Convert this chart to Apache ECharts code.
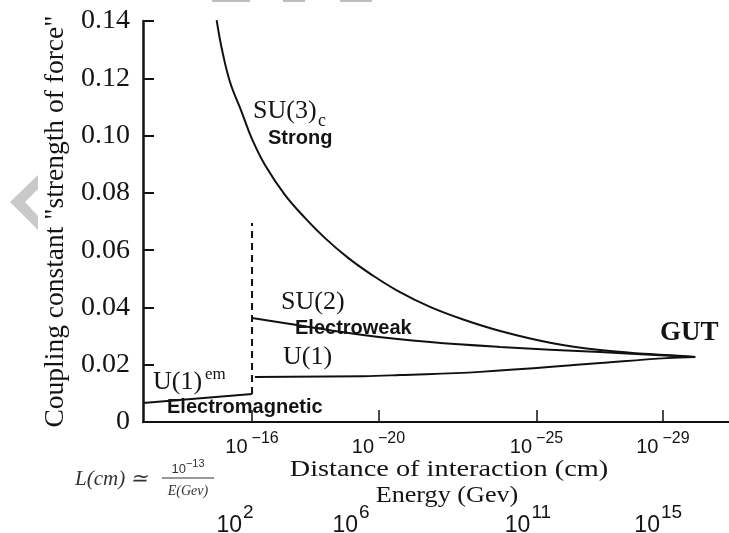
<!DOCTYPE html>
<html><head><meta charset="utf-8">
<script src="https://cdn.jsdelivr.net/npm/echarts@6/dist/echarts.min.js"></script>
<style>html,body{margin:0;padding:0;background:#fff}#c{width:729px;height:533px}</style>
</head><body><div id="c"></div>
<script>
// x = -log10(distance in cm)
const distanceExps = [16, 20, 25, 29];
const energyPositions = [15.46, 19.13, 24.73, 28.85];
const energyExps = [2, 6, 11, 15];

const strongX = [14.88, 15.04, 15.30, 15.67, 15.99, 16.41, 17.04, 17.68, 18.31, 19.04, 19.80, 20.62, 21.63, 22.68, 23.85, 25.43, 27.01, 28.59, 30.02];
const strongY = [0.1403, 0.1305, 0.1188, 0.1083, 0.0990, 0.0897, 0.0793, 0.0712, 0.0642, 0.0573, 0.0513, 0.0457, 0.0402, 0.0358, 0.0318, 0.0277, 0.0251, 0.0237, 0.0227];

const weakX = [16.0, 17.42, 19.51, 21.63, 23.85, 27.01, 30.02];
const weakY = [0.0363, 0.0339, 0.0304, 0.0279, 0.0262, 0.0244, 0.0227];

const u1X = [16.09, 19.51, 20.68, 23.21, 27.01, 29.13, 30.02];
const u1Y = [0.0157, 0.0160, 0.0164, 0.0175, 0.0206, 0.0223, 0.0227];

const emX = [12.55, 16.0];
const emY = [0.0066, 0.0098];

const breakX = [16.0, 16.0];
const breakY = [0.0098, 0.0695];

const zip = (a, b) => a.map((v, i) => [v, b[i]]);
const SERIF = '"Liberation Serif", "Times New Roman", serif';
const SANS = '"Liberation Sans", Arial, sans-serif';
const INK = '#141414';

const chart = echarts.init(document.getElementById('c'));
const lineSeries = (data, extra) => Object.assign({
  type: 'line', data: data, symbol: 'none', smooth: 0.4,
  lineStyle: { color: '#111', width: 2 }, silent: true, z: 3
}, extra || {});

const txt = (x, y, text, font, size, weight, extra) => Object.assign({
  type: 'text', x: x, y: y, z: 10,
  style: { text: text, fontFamily: font, fontSize: size, fontWeight: weight || 'normal',
           fill: INK, textVerticalAlign: 'middle', textAlign: 'left' }
}, extra || {});

const centered = (x, y, text, size, sx) => ({
  type: 'text', x: x, y: y, z: 10, scaleX: sx, originX: 0, originY: 0,
  style: { text: text, fontFamily: SERIF, fontSize: size, fill: INK, textVerticalAlign: 'middle', textAlign: 'center' }
});

chart.setOption({
  animation: false,
  grid: { left: 143, right: 0, top: 21, bottom: 111, containLabel: false, outerBoundsMode: 'none' },
  xAxis: [{
    type: 'value', min: 12.55, max: 31.09,
    axisLine: { show: true, lineStyle: { color: '#111', width: 2 } },
    axisTick: { show: true, inside: true, length: 12, customValues: distanceExps, lineStyle: { color: '#111', width: 1.5 } },
    splitLine: { show: false },
    axisLabel: {
      customValues: distanceExps, margin: 9, color: INK,
      formatter: v => '{b|10}{s|−' + v + '}',
      rich: {
        b: { fontFamily: SANS, fontSize: 20, lineHeight: 26, verticalAlign: 'bottom' },
        s: { fontFamily: SANS, fontSize: 16, lineHeight: 26, verticalAlign: 'top', padding: [0, 0, 0, 4] }
      }
    }
  }, {
    type: 'value', min: 12.55, max: 31.09, position: 'bottom',
    axisLine: { show: false }, axisTick: { show: false }, splitLine: { show: false },
    axisLabel: {
      customValues: energyPositions, margin: 81, color: INK,
      formatter: v => {
        const i = energyPositions.indexOf(v);
        return '{b|10}{s|' + (i >= 0 ? energyExps[i] : '') + '}';
      },
      rich: {
        b: { fontFamily: SANS, fontSize: 23, lineHeight: 34, verticalAlign: 'bottom' },
        s: { fontFamily: SANS, fontSize: 19, lineHeight: 34, verticalAlign: 'top', padding: [0, 0, 0, 1] }
      }
    }
  }],
  yAxis: {
    type: 'value', min: 0, max: 0.14, interval: 0.02,
    name: 'Coupling constant "strength of force"',
    nameLocation: 'middle', nameGap: 69,
    nameTextStyle: { fontFamily: SERIF, fontSize: 27.5, color: INK },
    axisLine: { show: true, lineStyle: { color: '#111', width: 2.5 } },
    axisTick: { show: true, inside: true, length: 11, lineStyle: { color: '#111', width: 2 } },
    splitLine: { show: false },
    axisLabel: {
      margin: 13, fontFamily: SERIF, fontSize: 28, color: INK,
      formatter: v => v === 0 ? '0' : v.toFixed(2)
    }
  },
  series: [
    lineSeries(zip(strongX, strongY)),
    lineSeries(zip(weakX, weakY)),
    lineSeries(zip(u1X, u1Y)),
    lineSeries(zip(emX, emY), { smooth: false }),
    lineSeries(zip(breakX, breakY), { smooth: false, lineStyle: { color: '#111', width: 2, type: [7, 5] } })
  ],
  graphic: [
    { type: 'polygon', z: 1, shape: { points: [[38,175],[10,202],[38,230],[38,216],[25,202],[38,189]] }, style: { fill: '#c9c9c9' } },
    { type: 'rect', shape: { x: 212, y: 0, width: 38, height: 2 }, style: { fill: '#bdbdbd' } },
    { type: 'rect', shape: { x: 283, y: 0, width: 22, height: 2 }, style: { fill: '#bdbdbd' } },
    { type: 'rect', shape: { x: 340, y: 0, width: 32, height: 2 }, style: { fill: '#bdbdbd' } },

    txt(253, 111, 'SU(3)', SERIF, 26),
    txt(318, 121, 'c', SERIF, 18),
    txt(268, 138, 'Strong', SANS, 20, 'bold'),
    txt(281, 302, 'SU(2)', SERIF, 26),
    txt(295, 328, 'Electroweak', SANS, 20, 'bold'),
    txt(283, 357, 'U(1)', SERIF, 26),
    txt(153, 382, 'U(1)', SERIF, 26),
    txt(205, 375, 'em', SERIF, 17),
    txt(167, 407, 'Electromagnetic', SANS, 20, 'bold'),
    txt(660, 333, 'GUT', SERIF, 27, 'bold'),

    centered(449, 470, 'Distance of interaction (cm)', 24, 1.18),
    centered(447, 496, 'Energy (Gev)', 24, 1.09),

    txt(75, 479, 'L(cm) ≃', SERIF, 21, 'normal',
        { style: { text: 'L(cm) ≃', fontFamily: SERIF, fontSize: 21, fontStyle: 'italic', fill: '#333', textVerticalAlign: 'middle', textAlign: 'left' } }),
    { type: 'text', x: 188, y: 467, z: 10, style: {
        text: '{b|10}{s|−13}', textAlign: 'center', textVerticalAlign: 'middle', fill: '#333',
        rich: { b: { fontFamily: SANS, fontSize: 13, lineHeight: 17, verticalAlign: 'bottom' },
                s: { fontFamily: SANS, fontSize: 11, lineHeight: 17, verticalAlign: 'top' } } } },
    { type: 'line', z: 10, shape: { x1: 162, y1: 478, x2: 214, y2: 478 }, style: { stroke: '#333', lineWidth: 1 } },
    { type: 'text', x: 188, y: 491, z: 10, style: {
        text: 'E(Gev)', fontFamily: SERIF, fontSize: 14, fontStyle: 'italic', fill: '#333',
        textAlign: 'center', textVerticalAlign: 'middle' } }
  ]
});
</script>
</body></html>
